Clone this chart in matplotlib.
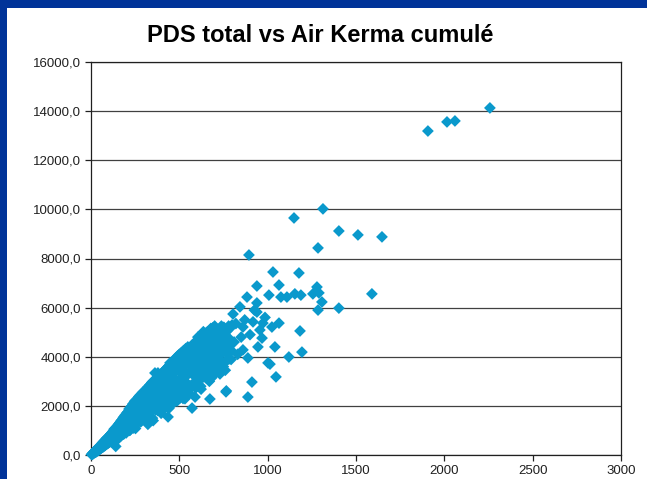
import matplotlib
matplotlib.use("Agg")
import matplotlib.pyplot as plt
from matplotlib.patches import Rectangle
from matplotlib.ticker import FuncFormatter, MultipleLocator

plt.rcParams['font.family'] = ['Liberation Sans', 'DejaVu Sans']

title = "PDS total vs Air Kerma cumulé"

# (Air Kerma cumulé, PDS total) pairs, by range of Air Kerma
points_0_100 = [
    (3, 20), (6, 40), (7, 30), (9, 55), (11, 80), (12, 50), (14, 95), (16, 75), (17, 120), (19, 100), (21, 140),
    (23, 115), (24, 180), (26, 150), (27, 110), (29, 210), (31, 170), (33, 240), (34, 155), (36, 230), (38, 200),
    (39, 300), (41, 260), (43, 190), (44, 330), (46, 280), (48, 220), (49, 360), (51, 300), (53, 390), (54, 260),
    (56, 350), (58, 420), (59, 290), (61, 460), (63, 380), (65, 310), (66, 500), (68, 420), (70, 340), (71, 540),
    (73, 450), (75, 370), (76, 580), (78, 480), (80, 390), (81, 610), (83, 520), (85, 430), (86, 650), (88, 540),
    (90, 450), (91, 700), (93, 580), (95, 470), (96, 720), (98, 610), (100, 500),
]
points_100_200 = [
    (102, 760), (103, 640), (105, 520), (107, 810), (108, 690), (110, 560), (112, 850), (113, 720), (115, 600),
    (117, 890), (118, 760), (120, 640), (122, 940), (124, 810), (126, 680), (127, 980), (129, 840), (131, 600),
    (133, 1050), (135, 900), (140, 350), (137, 760), (139, 1100), (141, 940), (143, 800), (145, 1150), (147, 980),
    (149, 690), (151, 1200), (153, 1030), (155, 880), (157, 1260), (159, 1070), (161, 920), (163, 1320), (165, 1120),
    (167, 760), (169, 1380), (171, 1170), (173, 1000), (175, 1430), (177, 1220), (179, 1050), (181, 1500),
    (183, 1270), (185, 850), (187, 1560), (189, 1320), (191, 1130), (193, 1620), (195, 1370), (197, 1180), (199, 900),
    (106, 590), (113, 860), (117, 540), (126, 830), (131, 1050), (142, 750), (146, 1040), (154, 660), (160, 990),
    (166, 1310), (177, 885), (180, 1240), (188, 900), (192, 1420),
]
points_200_300 = [
    (201, 1700), (203, 1420), (205, 1220), (207, 1050), (209, 1760), (211, 1480), (213, 1270), (215, 1870),
    (217, 1540), (219, 1000), (221, 1320), (223, 1930), (225, 1600), (227, 1380), (229, 1150), (231, 2000),
    (233, 1660), (235, 1420), (237, 2080), (239, 1720), (241, 1100), (243, 1480), (245, 2150), (247, 1780),
    (249, 2200), (251, 1530), (253, 1250), (255, 1840), (257, 2250), (259, 1580), (261, 1900), (263, 1330),
    (265, 2300), (267, 1640), (269, 1960), (271, 2380), (273, 1690), (275, 1420), (277, 2020), (279, 2440),
    (281, 1740), (283, 2080), (285, 1500), (287, 2500), (289, 1800), (291, 2140), (293, 1550), (295, 2560),
    (297, 1860), (299, 2200),
    (203, 1180), (208, 1160), (214, 1630), (222, 1020), (226, 1490), (234, 1870), (240, 1270), (244, 1730),
    (252, 1080), (258, 1600), (262, 2070), (270, 1350), (274, 1890), (282, 1350), (288, 2130), (296, 1720),
]
points_300_400 = [
    (302, 1600), (304, 2620), (307, 1920), (309, 2260), (312, 1680), (314, 2700), (317, 1980), (319, 2330),
    (322, 1250), (324, 2780), (327, 2040), (329, 2400), (332, 1780), (334, 2860), (337, 2100), (339, 2470),
    (342, 1850), (344, 2950), (347, 2160), (349, 2540), (352, 1400), (354, 3020), (357, 2220), (359, 2610),
    (362, 3340), (364, 1950), (367, 2280), (369, 3100), (372, 2680), (374, 2000), (377, 3200), (379, 3340),
    (382, 2340), (384, 2750), (387, 2060), (389, 3250), (392, 2400), (394, 2820), (397, 1700), (399, 3320),
    (362, 3050), (379, 3000),
    (303, 1700), (310, 2360), (316, 1450), (321, 2120), (330, 2640), (336, 1780), (341, 2420), (348, 1500),
    (353, 2190), (360, 2840), (366, 1830), (371, 2560), (378, 1810), (385, 2850), (391, 2270), (396, 2220),
]
points_400_500 = [
    (402, 2460), (405, 2900), (407, 2150), (410, 3400), (412, 2520), (415, 2980), (417, 1900), (420, 3480),
    (422, 2580), (425, 3050), (427, 2250), (430, 3550), (432, 2640), (435, 3120), (436, 1550), (437, 2300),
    (440, 3630), (442, 2700), (445, 3190), (447, 3750), (450, 2360), (452, 2760), (455, 3270), (457, 2050),
    (460, 3800), (462, 2820), (465, 3340), (467, 2420), (470, 3870), (472, 2880), (475, 3410), (477, 2480),
    (480, 3950), (482, 2940), (485, 3480), (487, 2200), (490, 4030), (492, 3000), (495, 3550), (497, 2550),
    (500, 4100),
    (404, 3070), (409, 1880), (416, 2750), (421, 3370), (428, 2270), (433, 3070), (441, 1900), (446, 2770),
    (453, 3580), (458, 2290), (464, 3200), (471, 2260), (476, 3520), (484, 2810), (489, 2740), (496, 3770),
    (460, 2600), (480, 3700), (440, 3400), (420, 2800), (470, 3050),
]
points_500_600 = [
    (503, 3060), (506, 3620), (509, 2600), (512, 4170), (515, 3120), (518, 3690), (521, 2300), (524, 4250),
    (527, 3180), (530, 3760), (533, 2700), (536, 4330), (539, 3240), (542, 3830), (545, 2750), (548, 4400),
    (551, 3300), (554, 3900), (557, 2500), (560, 4360), (563, 3360), (566, 3970), (569, 2850), (572, 1910),
    (575, 4500), (578, 3430), (581, 4040), (584, 2900), (587, 4570), (589, 2360), (592, 3490), (595, 4100),
    (598, 3000), (600, 4650),
    (502, 2310), (508, 3350), (514, 4110), (519, 2750), (526, 3730), (532, 2290), (538, 3340), (544, 4300),
    (550, 2750), (556, 3840), (561, 2690), (568, 4200), (574, 3330), (580, 3250), (586, 4450), (593, 2730),
    (599, 3950),
    (520, 3550), (540, 2950), (560, 3650), (580, 3800), (540, 4000), (510, 3800),
]
points_600_700 = [
    (603, 3550), (606, 4180), (609, 3060), (612, 4720), (615, 3620), (618, 4250), (621, 2800), (624, 4800),
    (627, 3680), (630, 4320), (633, 3160), (636, 4880), (639, 3740), (642, 4390), (645, 3220), (648, 4950),
    (651, 3800), (654, 4460), (657, 3280), (660, 5020), (662, 4560), (664, 3870), (667, 4530), (670, 3000),
    (673, 2280), (676, 5100), (679, 3930), (682, 4600), (685, 3400), (688, 5170), (691, 4000), (694, 4670),
    (697, 3460), (700, 5250),
    (605, 4800), (611, 3240), (617, 4380), (623, 2680), (629, 3900), (636, 5020), (641, 3200), (647, 4460),
    (653, 3130), (659, 4880), (666, 3860), (672, 3760), (678, 5150), (684, 3150), (690, 4550), (697, 5160),
    (602, 4300), (607, 3350), (614, 4050), (619, 3450), (626, 4550), (632, 3550), (638, 4150), (644, 3950),
    (650, 4700), (656, 3650), (663, 4250), (668, 4900), (674, 3550), (680, 4350), (686, 4800), (692, 3700),
    (699, 4350), (690, 3250), (640, 3400),
]
points_700_1000 = [
    (704, 4060), (708, 4740), (712, 3560), (716, 5050), (720, 4150), (724, 4820), (728, 3640), (732, 5130),
    (736, 4230), (740, 4900), (744, 3720), (747, 5170), (752, 4320), (756, 4980), (760, 3800), (764, 2570),
    (766, 2610), (770, 5060), (775, 4420), (780, 3900), (785, 5150), (790, 4500), (798, 5290), (804, 5740),
    (703, 3730), (710, 5040), (718, 4450), (726, 5080), (733, 3670), (741, 5110), (749, 3600), (757, 4920),
    (766, 4440), (775, 4340), (784, 5170), (793, 3890),
    (706, 4450), (713, 4850), (722, 3900), (729, 4600), (738, 5250), (745, 4150), (752, 5200), (761, 4700),
    (770, 4150), (779, 5250), (788, 4700), (795, 4250), (730, 3300), (760, 3450),
    (810, 4600), (820, 5350), (830, 4100), (843, 6030), (850, 4800), (860, 5210), (860, 4280), (870, 5500),
    (883, 6430), (888, 2360), (888, 3950), (894, 8143), (900, 4900), (911, 2970), (917, 5420), (925, 5900),
    (939, 6880), (939, 6190), (939, 5820), (945, 4400), (956, 5090), (968, 4760), (973, 5370), (985, 5600),
]
points_over_1000 = [
    (1002, 3750), (1007, 6510), (1013, 3700), (1024, 5210), (1030, 7450), (1041, 4400), (1047, 3180),
    (1064, 6920), (1064, 5370), (1075, 6430), (1109, 6430), (1120, 3990), (1149, 9650), (1154, 6560),
    (1177, 7410), (1183, 5050), (1188, 6510), (1194, 4190), (1256, 6560), (1279, 6840), (1285, 8430),
    (1290, 6600), (1307, 6230), (1285, 5900), (1313, 10020), (1403, 9120), (1403, 5980), (1511, 8960),
    (1590, 6560), (1647, 8880), (1907, 13190), (2015, 13560), (2060, 13600), (2258, 14130),
]

x_limits = (0, 3000)
y_limits = (0, 16000)

all_points = (points_0_100 + points_100_200 + points_200_300 + points_300_400 + points_400_500
              + points_500_600 + points_600_700 + points_700_1000 + points_over_1000)
air_kerma = [p[0] for p in all_points]
pds_total = [p[1] for p in all_points]

fig = plt.figure(figsize=(6.47, 4.79), dpi=100)
fig.patch.set_facecolor('white')
# blue frame (top and left bands)
fig.patches.append(Rectangle((0, 1 - 8 / 479), 1, 8 / 479, transform=fig.transFigure,
                             facecolor='#003399', edgecolor='none', zorder=0))
fig.patches.append(Rectangle((0, 0), 7 / 647, 1, transform=fig.transFigure,
                             facecolor='#003399', edgecolor='none', zorder=0))

ax = fig.add_axes([91 / 647, 1 - 455 / 479, (621 - 91) / 647, (455 - 62) / 479])
ax.scatter(air_kerma, pds_total, marker='D', s=36, color='#0A99CC', edgecolors='none', zorder=3, clip_on=False)

ax.set_xlim(*x_limits)
ax.set_ylim(*y_limits)
ax.xaxis.set_major_locator(MultipleLocator(500))
ax.yaxis.set_major_locator(MultipleLocator(2000))
ax.yaxis.set_major_formatter(FuncFormatter(lambda v, p: f"{v:.1f}".replace('.', ',')))
ax.xaxis.set_major_formatter(FuncFormatter(lambda v, p: f"{v:.0f}"))
ax.grid(axis='y', color='#404040', linewidth=0.9, zorder=1)
ax.set_axisbelow(True)
for s in ax.spines.values():
    s.set_color('#202020')
    s.set_linewidth(0.9)
ax.tick_params(axis='both', direction='out', length=4, width=0.9, color='#202020',
               labelsize=9.5, labelcolor='#202020', pad=3)

fig.text(0.495, 1 - 35 / 479, title, ha='center', va='center', fontsize=17, fontweight='bold', color='black')

fig.savefig('out.png', dpi=100)
